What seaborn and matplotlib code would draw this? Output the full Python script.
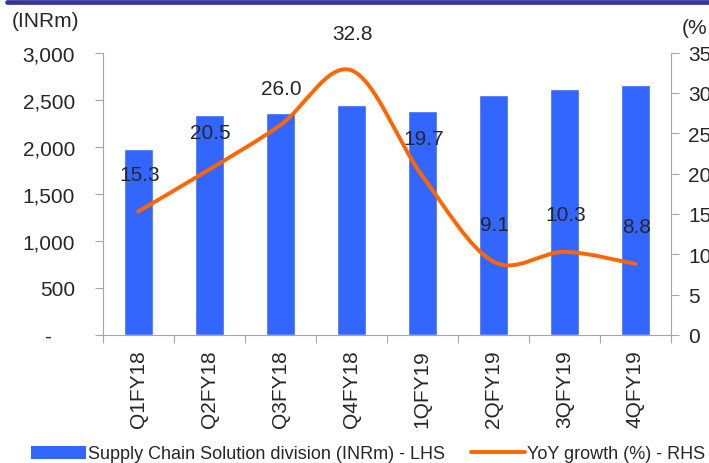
import numpy as np
import matplotlib
matplotlib.use('Agg')
import matplotlib.pyplot as plt
import seaborn as sns
from matplotlib.path import Path
from matplotlib.patches import PathPatch, Patch
from matplotlib.lines import Line2D
from matplotlib.ticker import FuncFormatter

# Data
quarters = ['Q1FY18', 'Q2FY18', 'Q3FY18', 'Q4FY18', '1QFY19', '2QFY19', '3QFY19', '4QFY19']
revenue = [1980, 2340, 2360, 2440, 2380, 2550, 2610, 2650]      # INRm, LHS
growth = [15.3, 20.5, 26.0, 32.8, 19.7, 9.1, 10.3, 8.8]          # YoY %, RHS

bar_color = '#3366FF'
line_color = '#FF6600'
grey = '#A6A6A6'

sns.set_style('white')
plt.rcParams['font.family'] = ['Liberation Sans', 'DejaVu Sans']

W, H = 709, 464
fig = plt.figure(figsize=(W / 100, H / 100), dpi=100)
ax = fig.add_axes([102.7 / W, 1 - 336 / H, (671 - 102.7) / W, (336 - 53.5) / H])

sns.barplot(x=quarters, y=revenue, color=bar_color, saturation=1, width=0.41, ax=ax)
ax.set_xlim(-0.5, len(quarters) - 0.5)
ax.set_ylim(0, 3000)
ax.set_yticks(np.arange(0, 3001, 500))
ax.yaxis.set_major_formatter(FuncFormatter(lambda v, p: f'{v:,.0f}' if v else '-    '))
ax.set_xlabel('')
ax.set_ylabel('')

ax.set_xticks(range(len(quarters)))
ax.set_xticklabels(quarters, rotation=90)
ax.set_xticks(np.arange(-0.5, len(quarters)), minor=True)
ax.tick_params(axis='x', which='major', length=0, pad=10, labelsize=15)
ax.tick_params(axis='x', which='minor', length=6, color=grey, width=0.8, bottom=True)
ax.tick_params(axis='y', length=6, color=grey, width=0.8, pad=14, labelsize=15, left=True)
for s in ['top', 'right']:
    ax.spines[s].set_visible(False)
for s in ['left', 'bottom']:
    ax.spines[s].set_color(grey)
    ax.spines[s].set_linewidth(0.8)

# right axis with smoothed growth line
ax2 = ax.twinx()
ax2.set_ylim(0, 35)
ax2.set_yticks(np.arange(0, 36, 5))
ax2.tick_params(axis='y', length=6, color=grey, width=0.8, pad=6.5, labelsize=15, right=True)
for s in ['top', 'left', 'bottom']:
    ax2.spines[s].set_visible(False)
ax2.spines['right'].set_color(grey)
ax2.spines['right'].set_linewidth(0.8)

pts = np.column_stack([np.arange(len(growth)), growth]).astype(float)
n = len(pts)
verts = [pts[0]]
codes = [Path.MOVETO]
for i in range(n - 1):
    p0 = pts[max(i - 1, 0)]
    p1 = pts[i]
    p2 = pts[i + 1]
    p3 = pts[min(i + 2, n - 1)]
    verts += [p1 + (p2 - p0) / 6, p2 - (p3 - p1) / 6, p2]
    codes += [Path.CURVE4] * 3
ax2.add_patch(PathPatch(Path(verts, codes), fill=False, edgecolor=line_color,
                        lw=2.8, capstyle='round', joinstyle='round',
                        transform=ax2.transData))

for i, v in enumerate(growth):
    ax2.annotate(f'{v:.1f}', (i, v), xytext=(1, 37), textcoords='offset pixels',
                 ha='center', va='center', fontsize=15)

# axis unit labels and top rule
fig.text(11.7 / W, 1 - 21.7 / H, '(INRm)', ha='left', va='center', fontsize=15)
fig.text(681.7 / W, 1 - 28 / H, '(%', ha='left', va='center', fontsize=15)
fig.add_artist(Line2D([7 / W, 1], [1 - 2.5 / H] * 2, transform=fig.transFigure,
                      color='#333399', lw=3.4))

handles = [Patch(facecolor=bar_color, edgecolor='none'),
           Line2D([0], [0], color=line_color, lw=2.8)]
labels = ['Supply Chain Solution division (INRm) - LHS', 'YoY growth (%) - RHS']
fig.legend(handles, labels, loc='center', bbox_to_anchor=((29 + 708) / 2 / W, 1 - 455 / H),
           ncol=2, frameon=False, fontsize=13, handlelength=3.0, handleheight=0.75,
           handletextpad=0.15, columnspacing=1.4, borderpad=0, borderaxespad=0)

fig.savefig('out.png', dpi=100)
